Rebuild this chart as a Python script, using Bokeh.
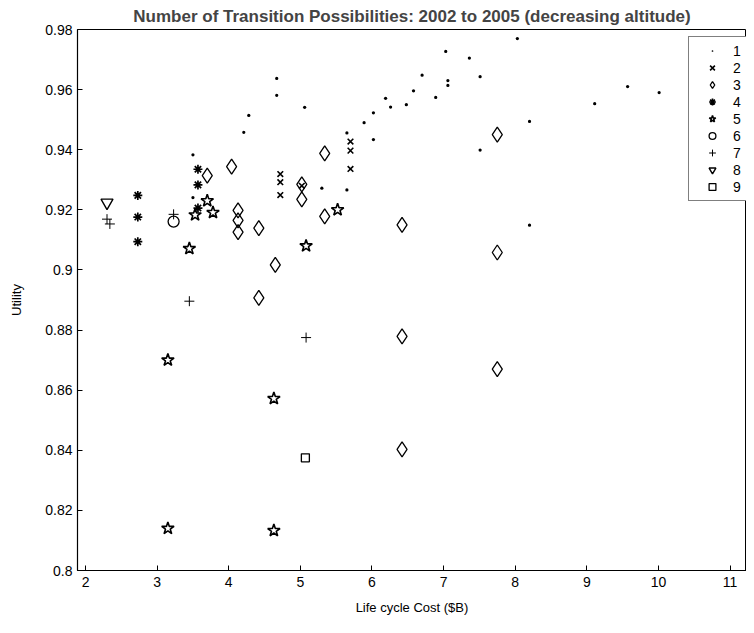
from bokeh.plotting import figure
from bokeh.models import Range1d, FixedTicker, Legend, LegendItem
from bokeh.embed import file_html
from bokeh.resources import INLINE

# ---- data ----
s1_x = [4.67, 4.67, 5.06, 4.28, 4.21, 3.50, 3.50, 5.30, 5.65, 5.65, 8.03, 7.03, 7.36, 6.70, 7.51, 7.06,
        7.06, 6.58, 6.19, 6.89, 6.48, 6.26, 6.02, 5.89, 8.20, 6.02, 7.51, 9.57, 10.01, 9.11, 8.20]
s1_y = [0.9637, 0.9581, 0.9541, 0.9514, 0.9458, 0.9383, 0.9241, 0.9272, 0.9456, 0.9266, 0.9770, 0.9727,
        0.9705, 0.9648, 0.9643, 0.9630, 0.9614, 0.9596, 0.9571, 0.9574, 0.9550, 0.9542, 0.9523, 0.9490,
        0.9494, 0.9434, 0.9399, 0.9610, 0.9590, 0.9553, 0.9149]
s2_x = [4.72, 4.72, 4.72, 5.02, 5.70, 5.70, 5.70]
s2_y = [0.9319, 0.9292, 0.9249, 0.9280, 0.9427, 0.9397, 0.9336]
s3_x = [3.70, 4.04, 4.13, 4.13, 4.13, 4.42, 4.65, 4.42, 5.02, 5.02, 5.34, 5.34, 6.42, 7.75, 7.75, 6.42, 7.75, 6.42]
s3_y = [0.9314, 0.9344, 0.9198, 0.9165, 0.9126, 0.9139, 0.9017, 0.8907, 0.9285, 0.9235, 0.9388, 0.9178,
        0.9150, 0.9450, 0.9058, 0.8779, 0.8670, 0.8403]
s4_x = [3.57, 3.57, 3.57, 2.73, 2.73, 2.73]
s4_y = [0.9335, 0.9283, 0.9206, 0.9248, 0.9176, 0.9094]
s5_x = [3.70, 3.53, 3.78, 3.45, 5.52, 5.08, 3.15, 4.63, 3.15, 4.63]
s5_y = [0.9230, 0.9183, 0.9191, 0.9071, 0.9200, 0.9080, 0.8700, 0.8572, 0.8140, 0.8133]
s6_x = [3.23]
s6_y = [0.9161]
s7_x = [2.30, 2.34, 3.45, 5.08, 3.23]
s7_y = [0.9169, 0.9153, 0.8896, 0.8775, 0.9185]
s8_x = [2.30]
s8_y = [0.9224]
s9_x = [5.07]
s9_y = [0.8375]

series_labels = ["1", "2", "3", "4", "5", "6", "7", "8", "9"]
x_ticks = [2, 3, 4, 5, 6, 7, 8, 9, 10, 11]
y_ticks = [0.8, 0.82, 0.84, 0.86, 0.88, 0.9, 0.92, 0.94, 0.96, 0.98]
y_tick_labels = ["0.8", "0.82", "0.84", "0.86", "0.88", "0.9", "0.92", "0.94", "0.96", "0.98"]

FONT = "Liberation Sans"

p = figure(width=746, height=617, output_backend="svg", toolbar_location=None,
           x_range=Range1d(1.888, 11.23), y_range=Range1d(0.8, 0.98),
           min_border_left=77, min_border_right=0, min_border_top=28, min_border_bottom=47,
           title="Number of Transition Possibilities: 2002 to 2005 (decreasing altitude)")
p.title.text_font = FONT
p.title.text_font_size = "17px"
p.title.text_font_style = "bold"
p.title.align = "center"
p.title.offset = 5
p.title.standoff = 8

p.xgrid.visible = False
p.ygrid.visible = False
p.outline_line_color = "black"
p.outline_line_width = 1

for ax in (p.xaxis[0], p.yaxis[0]):
    ax.major_tick_in = 5
    ax.major_tick_out = 0
    ax.minor_tick_line_color = None
    ax.axis_line_color = "black"
    ax.axis_line_width = 1.2
    ax.major_tick_line_color = "black"
    ax.major_label_text_font = FONT
    ax.major_label_text_font_size = "14px"
    ax.major_label_text_color = "black"
    ax.axis_label_text_font = FONT
    ax.axis_label_text_font_size = "13px"
    ax.axis_label_text_font_style = "normal"
    ax.axis_label_text_color = "black"

p.xaxis.ticker = FixedTicker(ticks=x_ticks)
p.yaxis.ticker = FixedTicker(ticks=y_ticks)
p.yaxis.major_label_overrides = {t: l for t, l in zip(y_ticks, y_tick_labels)}
p.xaxis.axis_label = "Life cycle Cost ($B)"
p.yaxis.axis_label = "Utility"
p.xaxis.major_label_standoff = 6
p.xaxis.axis_label_standoff = 10
p.yaxis.major_label_standoff = 5
p.yaxis.axis_label_standoff = 18

styles = [
    dict(marker="dot", size=13, fill_color="black", line_color="black", line_width=1),
    dict(marker="x", size=8, fill_color=None, line_color="black", line_width=1.6),
    dict(marker="diamond", size=15, fill_color=None, line_color="black", line_width=1.3),
    dict(marker="asterisk", size=9, fill_color=None, line_color="black", line_width=1.7),
    dict(marker="star", size=13, fill_color=None, line_color="black", line_width=1.6),
    dict(marker="circle", size=11, fill_color=None, line_color="black", line_width=1.3),
    dict(marker="cross", size=10, fill_color=None, line_color="black", line_width=1),
    dict(marker="inverted_triangle", size=12, fill_color=None, line_color="black", line_width=1.4),
    dict(marker="square", size=8, fill_color=None, line_color="black", line_width=1.3),
]
xs = [s1_x, s2_x, s3_x, s4_x, s5_x, s6_x, s7_x, s8_x, s9_x]
ys = [s1_y, s2_y, s3_y, s4_y, s5_y, s6_y, s7_y, s8_y, s9_y]

items = []
for x, y, st, lab in zip(xs, ys, styles, series_labels):
    r = p.scatter(x=x, y=y, **st)
    items.append(LegendItem(label=lab, renderers=[r]))

legend = Legend(items=items, location=(611, 369))
legend.border_line_color = "black"
legend.border_line_width = 1.2
legend.background_fill_color = "white"
legend.background_fill_alpha = 1
legend.padding = 5
legend.margin = 0
legend.spacing = 0
legend.glyph_height = 17
legend.label_height = 17
legend.glyph_width = 36
legend.label_standoff = 3
legend.label_text_font = FONT
legend.label_text_font_size = "14px"
legend.label_text_color = "black"
p.add_layout(legend, "center")

open("out.html", "w").write(file_html(p, INLINE))
